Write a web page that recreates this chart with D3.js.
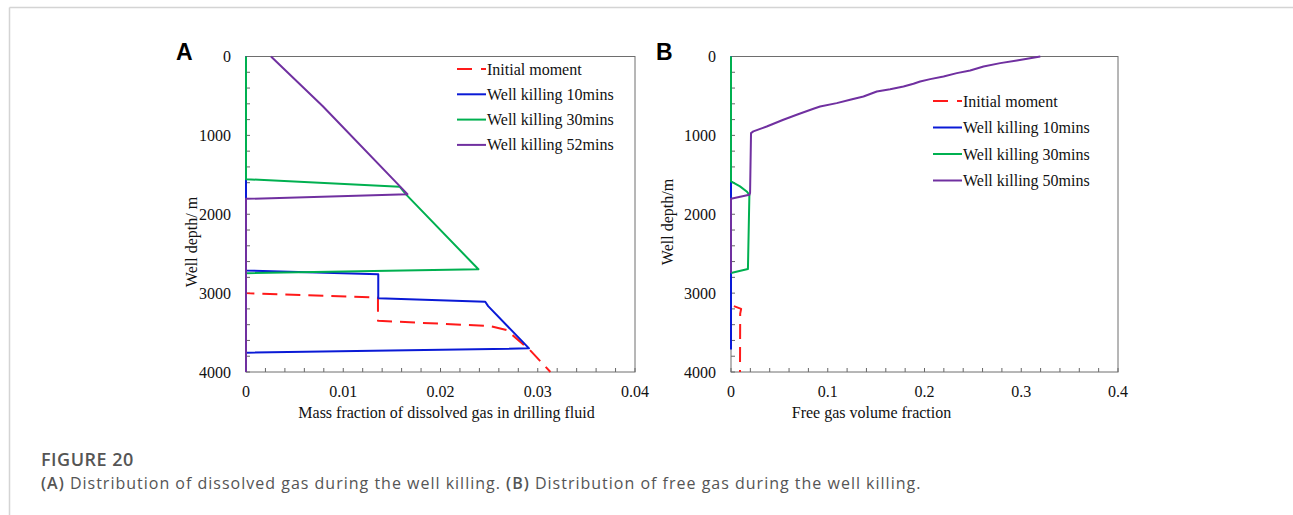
<!DOCTYPE html>
<html>
<head>
<meta charset="utf-8">
<script src="https://cdn.jsdelivr.net/npm/d3@7/dist/d3.min.js"></script>
<style>
  body { margin: 0; background: #fff; }
  svg { display: block; }
  .tick-label { font-family: "Liberation Serif", "Times New Roman", serif; font-size: 16px; fill: #111; }
  .axis-title { font-family: "Liberation Serif", "Times New Roman", serif; font-size: 16px; fill: #111; }
  .legend-text { font-family: "Liberation Serif", "Times New Roman", serif; font-size: 16px; fill: #111; }
  .panel-label { font-family: "Liberation Sans", Arial, sans-serif; font-size: 23px; font-weight: bold; fill: #000; }
  .caption { font-family: "Open Sans", "Noto Sans", sans-serif; fill: #555; }
</style>
</head>
<body>
<svg id="chart" width="1293" height="515"></svg>
<script>
// ---- data: [value, depth in m] ----
const seriesNames = ["Initial moment", "Well killing 10mins", "Well killing 30mins", "Well killing 52mins"];
const seriesNamesB = ["Initial moment", "Well killing 10mins", "Well killing 30mins", "Well killing 50mins"];

// panel A: mass fraction of dissolved gas
const initialA = [[0, 0], [0, 3000], [0.01357, 3055], [0.01357, 3350], [0.0251, 3418], [0.0268, 3468], [0.0292, 3722], [0.0313, 4000]];
const kill10A = [[0, 0], [0, 2712], [0.0136, 2760], [0.0136, 3065], [0.0246, 3110], [0.0249, 3165], [0.0291, 3700], [0, 3755], [0, 4000]];
const kill30A = [[0, 0], [0, 1555], [0.0158, 1650], [0.0165, 1755], [0.0239, 2698], [0, 2748], [0, 4000]];
const kill52A = [[0.00257, 0], [0.0079, 630], [0.0166, 1745], [0, 1805], [0, 4000]];

// panel B: free gas volume fraction
const initialB = [[0.003, 3165], [0.0105, 3200], [0.0095, 3260], [0.0093, 4000]];
const kill10B = [[0, 0], [0, 3716]];
const kill30B = [[0, 0], [0, 1584], [0.0093, 1647], [0.0162, 1711], [0.019, 1753], [0.0175, 2695], [0, 2745]];
const kill50B = [[0.3197, 0], [0.2955, 51], [0.2783, 84], [0.261, 127], [0.2472, 177], [0.2334, 211], [0.2197, 253],
  [0.2059, 287], [0.1955, 317], [0.1886, 346], [0.1783, 380], [0.1645, 414], [0.1507, 443], [0.1369, 507],
  [0.1231, 549], [0.1093, 591], [0.0921, 634], [0.0852, 663], [0.0679, 739], [0.0541, 802], [0.0369, 887],
  [0.0231, 950], [0.0207, 971], [0.0197, 1732], [0.019, 1753], [0, 1804], [0, 2745]];

const depthTicks = [0, 1000, 2000, 3000, 4000];
const xTicksA = [0, 0.01, 0.02, 0.03, 0.04];
const xTicksB = [0, 0.1, 0.2, 0.3, 0.4];

const colors = ["#ff1a1a", "#0a1ad6", "#00b050", "#7030a0"];

const svg = d3.select("#chart");

// card border
svg.append("line").attr("x1", 9.5).attr("y1", 7.5).attr("x2", 1293).attr("y2", 7.5)
  .attr("stroke", "#d4d4d4").attr("stroke-width", 1.5);
svg.append("line").attr("x1", 9.5).attr("y1", 7.5).attr("x2", 9.5).attr("y2", 515)
  .attr("stroke", "#d4d4d4").attr("stroke-width", 1.5);

function drawPanel(opt) {
  const x = d3.scaleLinear().domain(opt.xDomain).range([opt.left, opt.right]);
  const y = d3.scaleLinear().domain([0, 4000]).range([56.5, 372]);
  const g = svg.append("g");

  // minor ticks, pointing inward
  const xMinor = d3.range(0, opt.xDomain[1] + 1e-9, opt.xDomain[1] / 20);
  g.selectAll(".xm").data(xMinor).enter().append("line")
    .attr("x1", d => x(d)).attr("x2", d => x(d))
    .attr("y1", y(4000)).attr("y2", y(4000) - 4)
    .attr("stroke", "#666").attr("stroke-width", 1);
  g.selectAll(".ym").data(d3.range(0, 4001, 200)).enter().append("line")
    .attr("x1", x(0)).attr("x2", x(0) + 4)
    .attr("y1", d => y(d)).attr("y2", d => y(d))
    .attr("stroke", "#666").attr("stroke-width", 1);

  // frame
  g.append("rect")
    .attr("x", x(opt.xDomain[0])).attr("y", y(0))
    .attr("width", x(opt.xDomain[1]) - x(opt.xDomain[0]))
    .attr("height", y(4000) - y(0))
    .attr("fill", "none").attr("stroke", "#6e6e6e").attr("stroke-width", 1);

  // tick labels
  g.selectAll(".yl").data(depthTicks).enter().append("text")
    .attr("class", "tick-label")
    .attr("x", x(0) - 15).attr("y", d => y(d) + 5.5)
    .attr("text-anchor", "end")
    .text(d => d);
  g.selectAll(".xl").data(opt.xTicks).enter().append("text")
    .attr("class", "tick-label")
    .attr("x", d => x(d)).attr("y", 397)
    .attr("text-anchor", "middle")
    .text(d => d === 0 ? "0" : d3.format(opt.fmt)(d));

  // axis titles
  g.append("text").attr("class", "axis-title")
    .attr("x", (opt.left + opt.right) / 2 + opt.xTitleShift).attr("y", 418)
    .attr("text-anchor", "middle").text(opt.xTitle);
  g.append("text").attr("class", "axis-title")
    .attr("transform", "translate(" + opt.yTitleX + "," + opt.yTitleY + ")rotate(-90)")
    .attr("text-anchor", "middle").text(opt.yTitle);

  // panel letter
  g.append("text").attr("class", "panel-label")
    .attr("x", opt.letterX).attr("y", 60).text(opt.letter);

  // series
  const line = d3.line().x(d => x(d[0])).y(d => y(d[1]));
  opt.series.forEach((s, i) => {
    g.append("path")
      .datum(s)
      .attr("d", line)
      .attr("fill", "none")
      .attr("stroke", colors[i])
      .attr("stroke-width", 2)
      .attr("stroke-linejoin", "round")
      .attr("stroke-dasharray", i === 0 ? "15,8" : null);
  });

  // legend
  const legend = g.append("g").attr("transform", "translate(" + opt.legX + "," + opt.legY + ")");
  const rows = legend.selectAll(".row").data(opt.names).enter().append("g")
    .attr("transform", (d, i) => "translate(0," + (i * opt.legStep) + ")");
  rows.append("line")
    .attr("x1", 0).attr("x2", 29).attr("y1", 0).attr("y2", 0)
    .attr("stroke", (d, i) => colors[i])
    .attr("stroke-width", 2)
    .attr("stroke-dasharray", (d, i) => i === 0 ? "15,9" : null);
  rows.append("text").attr("class", "legend-text")
    .attr("x", 30).attr("y", 5.5).text(d => d);
}

drawPanel({
  left: 246, right: 635, xDomain: [0, 0.04], xTicks: xTicksA, fmt: ".2f",
  xTitle: "Mass fraction of dissolved gas in drilling fluid", xTitleShift: 6,
  yTitle: "Well depth/ m", yTitleX: 197, yTitleY: 242,
  letter: "A", letterX: 176,
  series: [initialA, kill10A, kill30A, kill52A], names: seriesNames,
  legX: 457, legY: 69, legStep: 25.3
});

drawPanel({
  left: 731, right: 1118, xDomain: [0, 0.4], xTicks: xTicksB, fmt: ".1f",
  xTitle: "Free gas volume fraction", xTitleShift: -53,
  yTitle: "Well depth/m", yTitleX: 673, yTitleY: 222,
  letter: "B", letterX: 656,
  series: [initialB, kill10B, kill30B, kill50B], names: seriesNamesB,
  legX: 933, legY: 101, legStep: 26.5
});

// caption
svg.append("text").attr("class", "caption")
  .attr("x", 41).attr("y", 466)
  .attr("font-size", 18).attr("font-weight", 600).attr("fill", "#5e5e5e")
  .attr("letter-spacing", 0.5)
  .text("FIGURE 20");
const cap = svg.append("text").attr("class", "caption")
  .attr("x", 41).attr("y", 489).attr("font-size", 16).attr("letter-spacing", 1);
cap.append("tspan").attr("font-weight", 600).text("(A)");
cap.append("tspan").text(" Distribution of dissolved gas during the well killing. ");
cap.append("tspan").attr("font-weight", 600).text("(B)");
cap.append("tspan").text(" Distribution of free gas during the well killing.");
</script>
</body>
</html>
